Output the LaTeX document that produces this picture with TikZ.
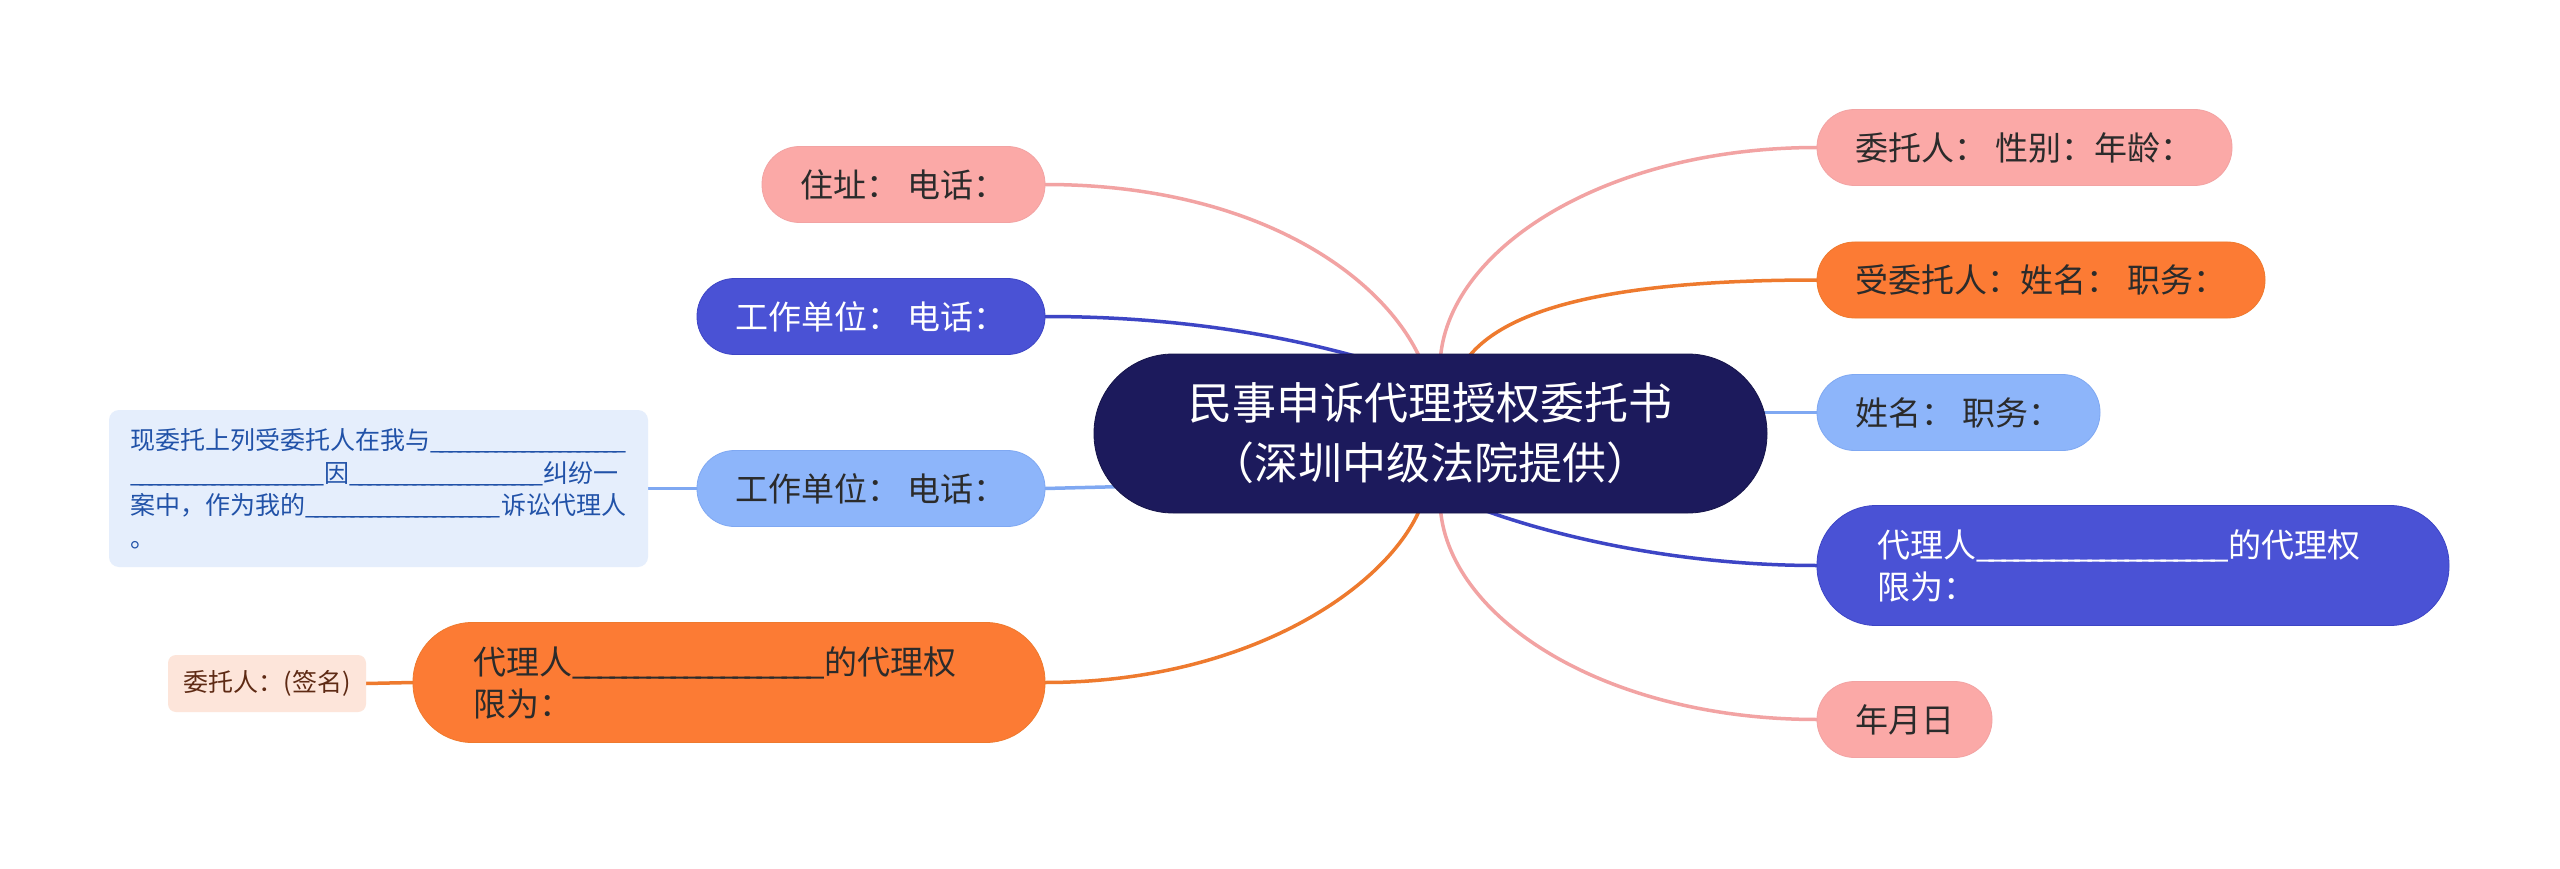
\documentclass[tikz,border=0pt]{standalone}
\usepackage{fontspec}
\setmainfont{Noto Sans CJK SC}
\usetikzlibrary{backgrounds,calc}
\definecolor{cnavy}{HTML}{1C1A5C}
\definecolor{cpink}{HTML}{FBA9A7}
\definecolor{corange}{HTML}{FC7B34}
\definecolor{cblue}{HTML}{4A52D5}
\definecolor{clblue}{HTML}{8DB5FA}
\definecolor{cpinkE}{HTML}{F2A3A3}
\definecolor{corangeE}{HTML}{EE7A2E}
\definecolor{cblueE}{HTML}{3D45C5}
\definecolor{clblueE}{HTML}{7FA8F2}
\definecolor{ctext}{HTML}{2B2B2B}
\definecolor{ctb}{HTML}{E5EEFC}
\definecolor{ctbtext}{HTML}{2152A8}
\definecolor{csig}{HTML}{FDE5DA}
\definecolor{csigtext}{HTML}{5E2A14}
\newcommand\ublank[1]{\hbox to #1{\xleaders\hbox{\_\kern-0.2em}\hfill\kern0.2em}}
\begin{document}
\begin{tikzpicture}[x=1pt,y=-1pt,
  base/.style={inner sep=0pt, outer sep=0pt, align=center, text=ctext},
  leaf/.style={base, minimum height=76, rounded corners=37.5, font=\fontsize{33}{42}\selectfont},
  twoleaf/.style={base, minimum height=120, rounded corners=59, inner xsep=60, text width=512, align=left, font=\fontsize{33}{42}\selectfont},
  pinkleaf/.style={fill=cpink, draw=cpinkE, line width=0.8},
  orangeleaf/.style={fill=corange, draw=corangeE, line width=0.8},
  blueleaf/.style={fill=cblue, draw=cblueE, line width=0.8, text=white},
  lblueleaf/.style={fill=clblue, draw=clblueE, line width=0.8},
  conn/.style={line width=3.5, line cap=round},
]
\useasboundingbox (0,0) rectangle (2560,869);

% central
\node[base, fill=cnavy, draw=cnavy!80!black, line width=0.8, text=white, minimum width=673, minimum height=159, rounded corners=79,
  font=\fontsize{44}{60}\selectfont] (c) at (1430.5,433.5) {民事申诉代理授权委托书\\（深圳中级法院提供）};

% left side
\node[leaf, pinkleaf, minimum width=283] (L1) at (903.5,184.5) {住址： 电话：};
\node[leaf, blueleaf, minimum width=348] (L2) at (871,316.5) {工作单位： 电话：};
\node[leaf, lblueleaf, minimum width=348] (L3) at (871,488.5) {工作单位： 电话：};
\node[twoleaf, orangeleaf] (L5) at (729,682.5) {代理人\ublank{253pt}的代理权\\限为：};
\node[base, fill=ctb, rounded corners=10, minimum width=539, minimum height=157, text=ctbtext, align=left,
  font=\fontsize{25}{32.5}\selectfont] (TB) at (378.5,488.5)
  {现委托上列受委托人在我与\ublank{197pt}\\\ublank{194pt}因\ublank{195pt}纠纷一\\案中，作为我的\ublank{196pt}诉讼代理人\\。};
\node[base, fill=csig, rounded corners=8, minimum width=198, minimum height=57, text=csigtext,
  font=\fontsize{25}{30}\selectfont] (SG) at (267,683.5) {委托人：(签名)};

% right side
\node[leaf, pinkleaf, minimum width=415] (R1) at (2024.5,147.5) {委托人： 性别：年龄：};
\node[leaf, orangeleaf, minimum width=448] (R2) at (2041,280) {受委托人：姓名： 职务：};
\node[leaf, lblueleaf, minimum width=283] (R3) at (1958.5,412.5) {姓名： 职务：};
\node[twoleaf, blueleaf] (R4) at (2133,565.5) {代理人\ublank{253pt}的代理权\\限为：};
\node[leaf, pinkleaf, minimum width=175] (R5) at (1904.5,719.5) {年月日};

% anchor points on the central node
\coordinate (ct1) at ($(c.north)+(-72,3)$);
\coordinate (ct2) at ($(c.north)+(-11,3)$);
\coordinate (ct3) at ($(c.north)+(10,3)$);
\coordinate (ct4) at ($(c.north)+(38,3)$);
\coordinate (cb1) at ($(c.south)+(-11,-3)$);
\coordinate (cb2) at ($(c.south)+(10,-3)$);
\coordinate (cb3) at ($(c.south)+(53,-3)$);
\coordinate (cl) at ($(c.west)+(31,53)$);
\coordinate (cr) at ($(c.east)+(-15,-21)$);

\begin{scope}[on background layer]
\fill[white] (0,0) rectangle (2560,869);
\draw[conn, cpinkE] (L1.east) .. controls +(206,0) and +(-40,-85) .. (ct2);
\draw[conn, cblueE] (L2.east) .. controls +(120,0) and +(-90,-25) .. (ct1);
\draw[conn, clblueE] (L3.east) -- (cl);
\draw[conn, corangeE] (L5.east) .. controls +(200,0) and +(-35,80) .. (cb1);
\draw[conn, cpinkE] (ct3) .. controls +(10,-110) and +(-210,0) .. (R1.west);
\draw[conn, corangeE] (ct4) .. controls +(40,-50) and +(-200,0) .. (R2.west);
\draw[conn, clblueE] (cr) -- (R3.west);
\draw[conn, cblueE] (cb3) .. controls +(60,22) and +(-150,0) .. (R4.west);
\draw[conn, cpinkE] (cb2) .. controls +(10,110) and +(-210,0) .. (R5.west);
\draw[conn, clblueE] (TB.east) -- (L3.west);
\draw[conn, corangeE] (SG.east) -- (L5.west);
\end{scope}
\end{tikzpicture}
\end{document}
